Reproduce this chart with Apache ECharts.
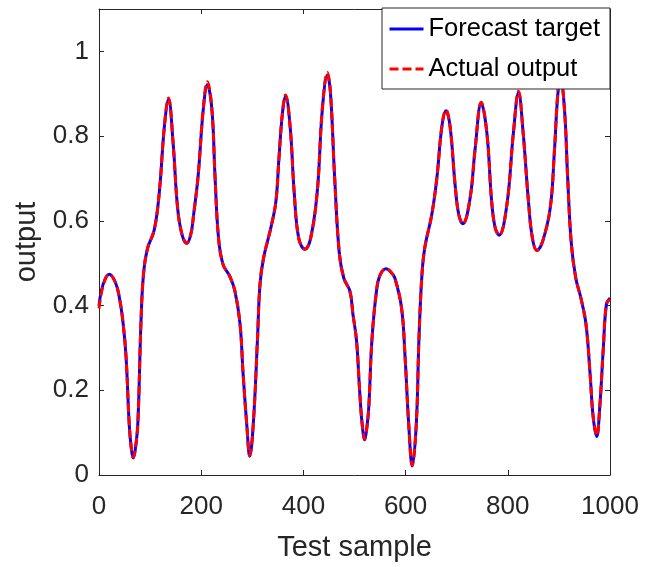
<!DOCTYPE html>
<html>
<head>
<meta charset="utf-8">
<script src="https://cdn.jsdelivr.net/npm/echarts@6/dist/echarts.min.js"></script>
<style>
  html, body { margin: 0; padding: 0; background: #fff; }
  #chart { width: 654px; height: 567px; }
</style>
</head>
<body>
<div id="chart"></div>
<script>
// Test sample index of each plotted point
const sampleIndex = [
  0, 8, 20, 32, 40, 47, 53, 59, 63, 67, 71, 76, 82, 87, 95, 108, 118, 128, 136, 145,
  154, 163, 172, 180, 185, 194, 204, 212, 221, 227, 234, 243, 256, 266, 276, 282, 289, 295, 302, 310,
  315, 322, 336, 346, 352, 359, 365, 374, 382, 391, 403, 414, 427, 437, 447, 453, 461, 470, 479, 491,
  497, 504, 510, 515, 520, 524, 528, 534, 543, 550, 562, 572, 579, 592, 599, 606, 613, 621, 626, 632,
  638, 651, 661, 671, 679, 687, 697, 704, 712, 726, 736, 748, 759, 768, 775, 783, 798, 811, 821, 830,
  840, 848, 857, 868, 883, 891, 898, 903, 911, 917, 924, 933, 943, 953, 961, 967, 974, 980, 987, 993,
  1000
];

// Forecast target
const forecastTarget = [
  0.400, 0.450, 0.474, 0.455, 0.418, 0.360, 0.278, 0.122, 0.065, 0.040, 0.060, 0.122, 0.356, 0.473, 0.535, 0.578, 0.667, 0.823, 0.887, 0.784,
  0.628, 0.565, 0.547, 0.570, 0.613, 0.706, 0.862, 0.921, 0.862, 0.706, 0.558, 0.496, 0.469, 0.434, 0.356, 0.239, 0.122, 0.044, 0.122, 0.317,
  0.449, 0.512, 0.582, 0.644, 0.745, 0.854, 0.895, 0.823, 0.667, 0.558, 0.533, 0.558, 0.667, 0.862, 0.944, 0.901, 0.706, 0.527, 0.465, 0.434,
  0.379, 0.317, 0.200, 0.120, 0.083, 0.110, 0.161, 0.317, 0.434, 0.472, 0.487, 0.478, 0.465, 0.395, 0.278, 0.122, 0.021, 0.122, 0.317, 0.473,
  0.540, 0.613, 0.699, 0.823, 0.860, 0.823, 0.683, 0.615, 0.593, 0.652, 0.769, 0.878, 0.808, 0.652, 0.585, 0.566, 0.636, 0.808, 0.903, 0.808,
  0.652, 0.560, 0.530, 0.551, 0.630, 0.760, 0.900, 0.933, 0.862, 0.706, 0.551, 0.465, 0.418, 0.356, 0.239, 0.138, 0.091, 0.161, 0.301, 0.403,
  0.418
];

// Actual output of the model
const actualOutput = [
  0.393, 0.447, 0.474, 0.455, 0.418, 0.360, 0.278, 0.125, 0.066, 0.042, 0.060, 0.122, 0.356, 0.473, 0.535, 0.578, 0.667, 0.825, 0.890, 0.784,
  0.628, 0.565, 0.547, 0.570, 0.613, 0.706, 0.865, 0.928, 0.862, 0.706, 0.558, 0.496, 0.469, 0.434, 0.356, 0.239, 0.122, 0.046, 0.122, 0.317,
  0.449, 0.512, 0.582, 0.644, 0.745, 0.856, 0.897, 0.823, 0.667, 0.558, 0.533, 0.558, 0.667, 0.865, 0.950, 0.903, 0.706, 0.527, 0.465, 0.434,
  0.379, 0.317, 0.200, 0.120, 0.085, 0.110, 0.161, 0.317, 0.434, 0.472, 0.487, 0.478, 0.465, 0.395, 0.278, 0.122, 0.023, 0.122, 0.317, 0.473,
  0.540, 0.613, 0.699, 0.823, 0.862, 0.823, 0.683, 0.615, 0.593, 0.652, 0.769, 0.880, 0.808, 0.652, 0.585, 0.566, 0.636, 0.808, 0.906, 0.808,
  0.652, 0.560, 0.530, 0.551, 0.630, 0.760, 0.905, 0.938, 0.862, 0.706, 0.551, 0.465, 0.418, 0.356, 0.239, 0.138, 0.093, 0.161, 0.301, 0.403,
  0.415
];

const seriesNames = ['Forecast target', 'Actual output'];

const FONT = '"Liberation Sans", Arial, Helvetica, sans-serif';
const AXIS_COLOR = '#262626';

const pairs = (ys) => sampleIndex.map((x, i) => [x, ys[i]]);

const boxAxis = (extra) => Object.assign({
  type: 'value',
  axisLine: { show: true, onZero: false, lineStyle: { color: AXIS_COLOR, width: 1 } },
  axisTick: { show: true, inside: true, length: 5, lineStyle: { color: AXIS_COLOR, width: 1 } },
  splitLine: { show: false }
}, extra);

const chart = echarts.init(document.getElementById('chart'), null, { renderer: 'canvas' });

chart.setOption({
  animation: false,
  backgroundColor: '#ffffff',
  grid: { left: 99, right: 44, top: 9, bottom: 88, containLabel: false },
  legend: {
    data: seriesNames,
    orient: 'vertical',
    left: 382,
    top: 8,
    padding: [8, 10, 7, 6],
    itemWidth: 34,
    itemHeight: 14,
    itemGap: 14,
    itemStyle: { opacity: 0 },
    lineStyle: { width: 3 },
    backgroundColor: '#ffffff',
    borderColor: AXIS_COLOR,
    borderWidth: 1,
    borderRadius: 0,
    textStyle: { fontFamily: FONT, fontSize: 25.5, color: '#000000' }
  },
  xAxis: [
    boxAxis({
      position: 'bottom',
      min: 0, max: 1000, interval: 200,
      name: 'Test sample',
      nameLocation: 'middle',
      nameGap: 58,
      nameTextStyle: { fontFamily: FONT, fontSize: 29, color: AXIS_COLOR },
      axisLabel: {
        show: true, margin: 19, fontFamily: FONT, fontSize: 26, color: AXIS_COLOR,
        formatter: (v) => String(v)
      }
    }),
    boxAxis({
      position: 'top',
      min: 0, max: 1000, interval: 200,
      axisLabel: { show: false }
    })
  ],
  yAxis: [
    boxAxis({
      position: 'left',
      min: 0, max: 1.1, interval: 0.2,
      name: 'output',
      nameLocation: 'middle',
      nameGap: 55,
      nameTextStyle: { fontFamily: FONT, fontSize: 29, color: AXIS_COLOR },
      axisLabel: { show: true, margin: 10, showMaxLabel: false, fontFamily: FONT, fontSize: 26, color: AXIS_COLOR }
    }),
    boxAxis({
      position: 'right',
      min: 0, max: 1.1, interval: 0.2,
      axisLabel: { show: false }
    })
  ],
  series: [
    {
      name: seriesNames[0],
      type: 'line',
      xAxisIndex: 0,
      yAxisIndex: 0,
      data: pairs(forecastTarget),
      smooth: 0.4,
      symbol: 'none',
      lineStyle: { color: '#0000ff', width: 3 },
      itemStyle: { color: '#0000ff' },
      z: 2
    },
    {
      name: seriesNames[1],
      type: 'line',
      xAxisIndex: 0,
      yAxisIndex: 0,
      data: pairs(actualOutput),
      smooth: 0.4,
      symbol: 'none',
      lineStyle: { color: '#ff0000', width: 3, type: [9, 4] },
      itemStyle: { color: '#ff0000' },
      z: 3
    }
  ]
});
</script>
</body>
</html>
